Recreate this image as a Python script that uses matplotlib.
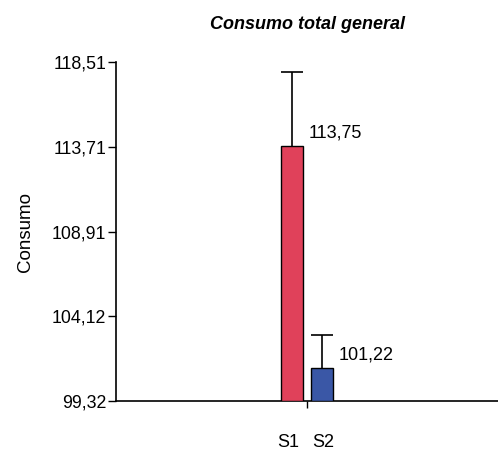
import numpy as np
import matplotlib.pyplot as plt

plt.rcParams['font.family'] = ['Liberation Sans', 'DejaVu Sans']

# data
groups = ['S1', 'S2']
means = [113.75, 101.22]
errors = [4.19, 1.83]
mean_labels = ['113,75', '101,22']
bar_colors = ['#e0415a', '#3a57a6']
yticks = [99.32, 104.12, 108.91, 113.71, 118.51]
ytick_labels = ['99,32', '104,12', '108,91', '113,71', '118,51']

fig = plt.figure(figsize=(4.98, 4.59), dpi=100)
ax = fig.add_axes([0.233, 0.126, 0.767, 0.739])

base = yticks[0]
xpos = np.array([-0.039, 0.039])
width = 0.058
heights = np.array(means) - base
tops = np.array(means) + np.array(errors)
ax.bar(xpos, heights, width=width, bottom=base, color=bar_colors,
       edgecolor='black', linewidth=1.0, zorder=3)
# one-sided error bars
ax.vlines(xpos, means, tops, colors='black', linewidth=1.2, zorder=2)
ax.hlines(tops, xpos - width / 2, xpos + width / 2, colors='black',
          linewidth=1.2, zorder=2)

for x, m, lab in zip(xpos, means, mean_labels):
    ax.annotate(lab, (x + width / 2, m), xytext=(4, 3), textcoords='offset points',
                ha='left', va='bottom', fontsize=13)

ax.set_xlim(-0.5, 0.5)
ax.set_ylim(yticks[0], yticks[-1])
ax.set_yticks(yticks)
ax.set_yticklabels(ytick_labels, fontsize=12.8)
ax.tick_params(axis='y', direction='out', length=6, width=1, pad=1)

ax.set_xticks([0])
ax.set_xticklabels([''])
ax.tick_params(axis='x', which='major', direction='out', length=5, width=1)
ax.set_xticks(xpos - np.array([0.011, -0.004]), minor=True)
ax.set_xticklabels(groups, minor=True, fontsize=13)
ax.tick_params(axis='x', which='minor', length=0, pad=24)

for s in ['top', 'right']:
    ax.spines[s].set_visible(False)
ax.spines['left'].set_linewidth(1.2)
ax.spines['bottom'].set_linewidth(1.2)

ax.set_ylabel('Consumo', fontsize=13.5, labelpad=13)
ax.set_title('Consumo total general', fontsize=13, fontweight='bold',
             style='italic', pad=24)

fig.savefig('out.png', dpi=100)
